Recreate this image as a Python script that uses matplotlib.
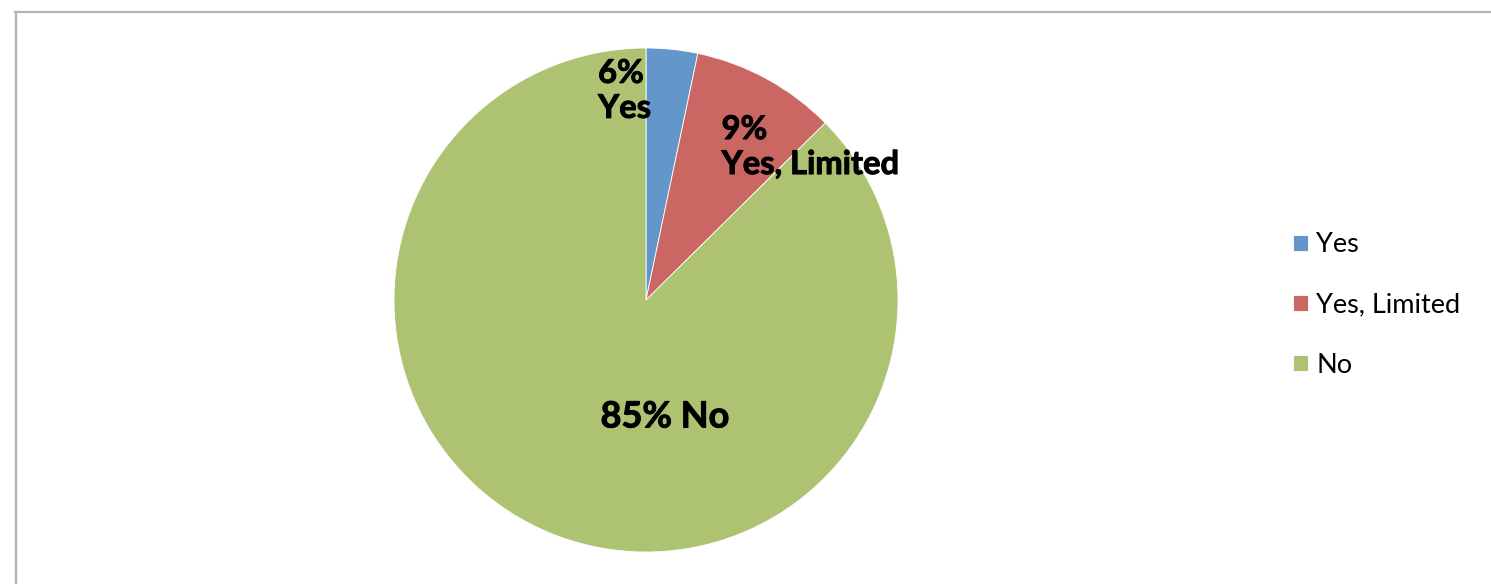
import matplotlib
matplotlib.use("Agg")
import matplotlib.pyplot as plt
import matplotlib.patheffects as pe
from matplotlib.lines import Line2D

# slice sizes as drawn in the picture, labels as printed on it
categories = ["Yes", "Yes, Limited", "No"]
shares = [3.3, 9.3, 87.4]
slice_labels = ["6%\nYes", "9%\nYes, Limited", "85% No"]
COLORS = ["#6497C9", "#CB6762", "#ADC372"]

W, H = 1491, 584
fig = plt.figure(figsize=(W / 100, H / 100), dpi=100)
plt.rcParams["font.family"] = ["Lato", "DejaVu Sans"]

# pie area in pixels: left 394, top 48, size 504
ax = fig.add_axes([394 / W, (H - 552) / H, 504 / W, 504 / H])
wedges, _ = ax.pie(shares, colors=COLORS, startangle=90, counterclock=False,
                   wedgeprops=dict(linewidth=0.6, edgecolor="white"))
ax.set_xlim(-1, 1)
ax.set_ylim(-1, 1)
ax.set_aspect("equal")
ax.axis("off")

bold_fx = [pe.withStroke(linewidth=0.7, foreground="black")]
text_pos = [(-0.19, 0.83, "left", 23.5), (0.30, 0.607, "left", 23.5),
            (0.075, -0.464, "center", 26)]
for txt, (x, y, ha, size) in zip(slice_labels, text_pos):
    ax.text(x, y, txt, ha=ha, va="center", multialignment="left",
            fontsize=size, fontweight="bold", linespacing=1.25, color="black",
            path_effects=bold_fx)

fig.legend(wedges, categories, loc="center left",
           bbox_to_anchor=(1293 / W, (H - 305) / H), frameon=False,
           fontsize=19.5, handlelength=0.55, handleheight=0.55,
           handletextpad=0.3, labelspacing=1.3, borderpad=0, borderaxespad=0)

# chart frame (left and top edges visible)
frame_kw = dict(color="#b4b4b4", linewidth=1.6, transform=fig.transFigure)
fig.add_artist(Line2D([15.5 / W, 15.5 / W], [0, (H - 12) / H], **frame_kw))
fig.add_artist(Line2D([15 / W, 1], [(H - 12) / H, (H - 12) / H], **frame_kw))

fig.savefig("out.png", dpi=100)
